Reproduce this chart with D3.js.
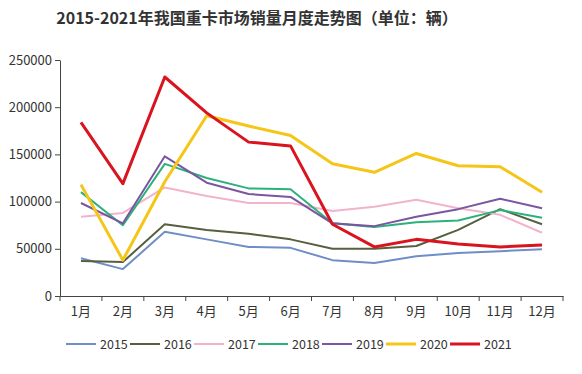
<!DOCTYPE html>
<html>
<head>
<meta charset="utf-8">
<script src="https://d3js.org/d3.v7.min.js"></script>
<style>
  body { margin: 0; background: #fff; }
  svg { display: block; }
</style>
</head>
<body>
<svg id="chart" width="582" height="374"></svg>
<script>
// month labels and year series (units: vehicles)
var months = ['1月','2月','3月','4月','5月','6月','7月','8月','9月','10月','11月','12月'];
var years = ['2015','2016','2017','2018','2019','2020','2021'];
var colors = ['#6f8ec6','#56603f','#f2b3cd','#2bb27a','#7a55a0','#f5c518','#d9141e'];
var widths = [2, 2, 2, 2, 2, 3, 3];
var yTicks = [0, 50000, 100000, 150000, 200000, 250000];

var s2015 = [40000, 28500, 68000, 60000, 52000, 51000, 38000, 35000, 42000, 45500, 47500, 49500];
var s2016 = [37000, 36000, 76000, 70000, 66000, 60000, 50000, 50000, 53000, 70000, 92000, 76000];
var s2017 = [84000, 88000, 115000, 106000, 98500, 98500, 90000, 94500, 102000, 93000, 86000, 67000];
var s2018 = [110000, 75000, 140000, 125000, 114000, 113000, 77000, 73000, 78000, 80000, 91000, 83000];
var s2019 = [98500, 77000, 148000, 120000, 108000, 105000, 77000, 74000, 84000, 92000, 103000, 93000];
var s2020 = [118000, 38000, 121000, 191000, 180000, 170000, 140000, 131000, 151000, 138000, 137000, 110000];
var s2021 = [184000, 119000, 232000, 194000, 163000, 159000, 76000, 52000, 60000, 55000, 52000, 54000];
var series = [s2015, s2016, s2017, s2018, s2019, s2020, s2021];

var svg = d3.select('#chart');
var font = '"Noto Sans CJK SC", "DejaVu Sans", sans-serif';

// title
svg.append('text')
  .attr('x', 257).attr('y', 24)
  .attr('text-anchor', 'middle')
  .style('font-family', font)
  .style('font-weight', 'bold')
  .style('font-size', '16px')
  .style('fill', '#333')
  .text('2015-2021年我国重卡市场销量月度走势图（单位：辆）');

var plotL = 60, plotR = 563, plotT = 60, plotB = 296;

var x = d3.scaleBand().domain(months).range([plotL, plotR]);
var y = d3.scaleLinear().domain([0, 250000]).range([plotB, plotT]);

// axes
var yAxis = svg.append('g')
  .attr('transform', 'translate(' + plotL + ',0)')
  .call(d3.axisLeft(y).tickValues(yTicks).tickFormat(d3.format('d'))
    .tickSize(5).tickSizeOuter(0).tickPadding(3));

var xAxis = svg.append('g')
  .attr('transform', 'translate(0,' + plotB + ')')
  .call(d3.axisBottom(x).tickSize(0).tickPadding(11));

// tick marks at band edges
xAxis.selectAll('.edge')
  .data(d3.range(months.length + 1))
  .enter().append('line')
    .attr('x1', function(i){ return plotL + i * x.step(); })
    .attr('x2', function(i){ return plotL + i * x.step(); })
    .attr('y1', 0).attr('y2', 5)
    .attr('stroke', '#444');

[yAxis, xAxis].forEach(function(a) {
  a.select('.domain').attr('stroke', '#444');
  a.selectAll('.tick line').attr('stroke', '#444');
  a.selectAll('text')
    .style('font-family', font)
    .style('font-size', '13px')
    .style('fill', '#333');
});

// lines
var line = d3.line()
  .x(function(d, i){ return x(months[i]) + x.bandwidth() / 2; })
  .y(function(d){ return y(d); });

series.forEach(function(s, k) {
  svg.append('path')
    .datum(s)
    .attr('d', line)
    .attr('fill', 'none')
    .attr('stroke', colors[k])
    .attr('stroke-width', widths[k])
    .attr('stroke-linejoin', 'round');
});

// legend
var legend = svg.append('g').attr('transform', 'translate(66,344)');
var item = legend.selectAll('.key')
  .data(years)
  .enter().append('g')
    .attr('class', 'key')
    .attr('transform', function(d, i){ return 'translate(' + (i * 64) + ',0)'; });

item.append('line')
  .attr('x1', 0).attr('x2', 30)
  .attr('stroke', function(d, i){ return colors[i]; })
  .attr('stroke-width', function(d, i){ return widths[i]; });

item.append('text')
  .attr('x', 34).attr('y', 4.5)
  .style('font-family', font)
  .style('font-size', '12.5px')
  .style('fill', '#333')
  .text(function(d){ return d; });
</script>
</body>
</html>
